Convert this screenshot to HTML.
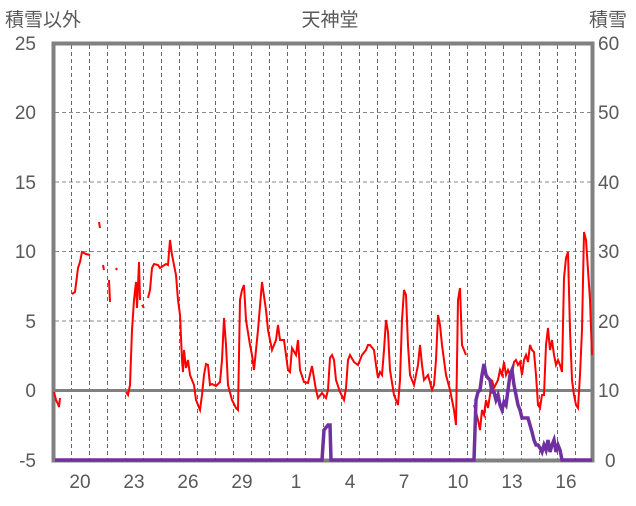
<!DOCTYPE html>
<html><head><meta charset="utf-8"><style>
body{margin:0;background:#fff;}
svg text{font-family:"Liberation Sans","Noto Sans CJK JP",sans-serif;fill:#595959;}
</style></head><body>
<svg width="636" height="501" viewBox="0 0 636 501" xmlns="http://www.w3.org/2000/svg">
<rect width="636" height="501" fill="#fff"/>
<g stroke="#888" stroke-width="1" stroke-dasharray="4,3">
<line x1="55" x2="592" y1="112.5" y2="112.5"/>
<line x1="55" x2="592" y1="182" y2="182"/>
<line x1="55" x2="592" y1="251.5" y2="251.5"/>
<line x1="55" x2="592" y1="321" y2="321"/>
</g>
<g stroke="#666" stroke-width="1" stroke-dasharray="4,3" id="vg"></g>
<line x1="54" x2="592" y1="390.5" y2="390.5" stroke="#808080" stroke-width="3"/>
<rect x="53.5" y="43.5" width="539" height="417" fill="none" stroke="#808080" stroke-width="4"/>
<polyline fill="none" stroke="#ff0000" stroke-width="2" points="54,392 56,400 58,404 59,407 60,398"/>
<polyline fill="none" stroke="#ff0000" stroke-width="2" points="72,294 75,292 78,268 80,262 82,252 86,254 90,255"/>
<polyline fill="none" stroke="#ff0000" stroke-width="2" points="99,222 100,228"/>
<polyline fill="none" stroke="#ff0000" stroke-width="2" points="103,265 104,270"/>
<polyline fill="none" stroke="#ff0000" stroke-width="2" points="109,280 110,302"/>
<polyline fill="none" stroke="#ff0000" stroke-width="2" points="116,268 117,270"/>
<polyline fill="none" stroke="#ff0000" stroke-width="2" points="126,392 128,395 130,385 132,330 134,300 136,282 137,308 139,262 140,300"/>
<polyline fill="none" stroke="#ff0000" stroke-width="2" points="142,305 144,308"/>
<polyline fill="none" stroke="#ff0000" stroke-width="2" points="148,298 150,290 152,268 154,264 158,265 160,268 166,264 168,265 170,240 172,255 176,275 178,300 180,315 182,360 183,372 184,350 186,368 188,360 190,375 194,385 196,400 198,405 200,410 202,395 204,375 206,364 208,365 210,385 212,384 216,386 220,382 222,360 224,318 226,345 228,385 232,400 236,408 238,410 240,300 242,290 244,285 246,320 250,345 252,355 254,370 258,330 262,282 266,310 268,330 272,350 276,340 278,325 280,340 284,340 286,355 288,370 290,372 292,348 296,355 298,340 300,370 304,382 308,383 312,366 314,378 316,390 318,398 322,393 326,398 328,390 330,358 332,355 334,360 336,380 340,392 344,400 346,388 348,360 350,355 354,362 358,365 362,355 366,350 368,345 370,345 374,350 376,365 378,378 380,372 382,375 384,350 386,320 388,332 390,370 394,395 398,405 400,380 402,320 404,290 406,295 408,345 410,375 414,385 418,365 420,345 422,365 424,380 428,375 432,390 434,385 436,360 438,315 440,325 442,345 446,375 450,390 452,400 454,410 456,425 458,300 460,288 462,345 464,350 466,355"/>
<polyline fill="none" stroke="#ff0000" stroke-width="2" points="474,405 476,412 478,420 480,430 482,410 484,415 486,400 488,408 490,395 492,380 494,388 498,380 500,370 502,375 504,362 506,375 508,370 510,375 512,375 514,362 516,360 518,365 520,362 522,375 524,360 526,355 528,362 530,345 532,350 534,352 536,375 538,405 540,408 542,395 544,395 546,345 548,328 550,350 552,340 554,355 556,365 558,360 560,365 562,372 564,278 566,258 568,252 570,330 572,380 574,395 576,405 578,408 580,375 582,330 584,232 586,240 588,270 590,300 592,355"/>
<polyline fill="none" stroke="#7030a0" stroke-width="3.5" points="55,460 322,460 324,430 328,425 330,425 331,460 474,460 476,400 478,392 480,390 482,375 484,364 486,375 488,378 490,380 492,392 494,392 496,400 498,395 500,405 502,410 504,402 506,405 508,390 510,375 512,370 514,385 516,395 518,405 520,410 522,418 528,418 530,425 532,432 534,440 536,445 538,445 540,448 542,452 544,445 546,450 548,440 550,452 552,445 554,440 556,452 558,445 560,450 562,460 592,460"/>
<g font-size="19" text-anchor="end">
<text x="36" y="50">25</text><text x="36" y="119">20</text><text x="36" y="189">15</text>
<text x="36" y="258">10</text><text x="36" y="328">5</text><text x="36" y="397">0</text><text x="36" y="467">-5</text>
</g>
<g font-size="19" text-anchor="start">
<text x="598" y="50">60</text><text x="598" y="119">50</text><text x="598" y="189">40</text>
<text x="598" y="258">30</text><text x="598" y="328">20</text><text x="598" y="397">10</text><text x="605" y="467">0</text>
</g>
<g font-size="19" text-anchor="middle">
<text x="80" y="488">20</text><text x="134" y="488">23</text><text x="188" y="488">26</text><text x="242" y="488">29</text>
<text x="296" y="488">1</text><text x="350" y="488">4</text><text x="404" y="488">7</text><text x="458" y="488">10</text>
<text x="512" y="488">13</text><text x="566" y="488">16</text>
</g>
<text x="5" y="26" font-size="19">積雪以外</text>
<text x="330" y="26" font-size="19" text-anchor="middle">天神堂</text>
<text x="589" y="26" font-size="19">積雪</text>
</svg>
<script>
var g=document.getElementById('vg');
for(var k=1;k<30;k++){var x=53+18*k+0.5;var l=document.createElementNS('http://www.w3.org/2000/svg','line');
l.setAttribute('x1',x);l.setAttribute('x2',x);l.setAttribute('y1',45);l.setAttribute('y2',459);g.appendChild(l);}
</script>
</body></html>
